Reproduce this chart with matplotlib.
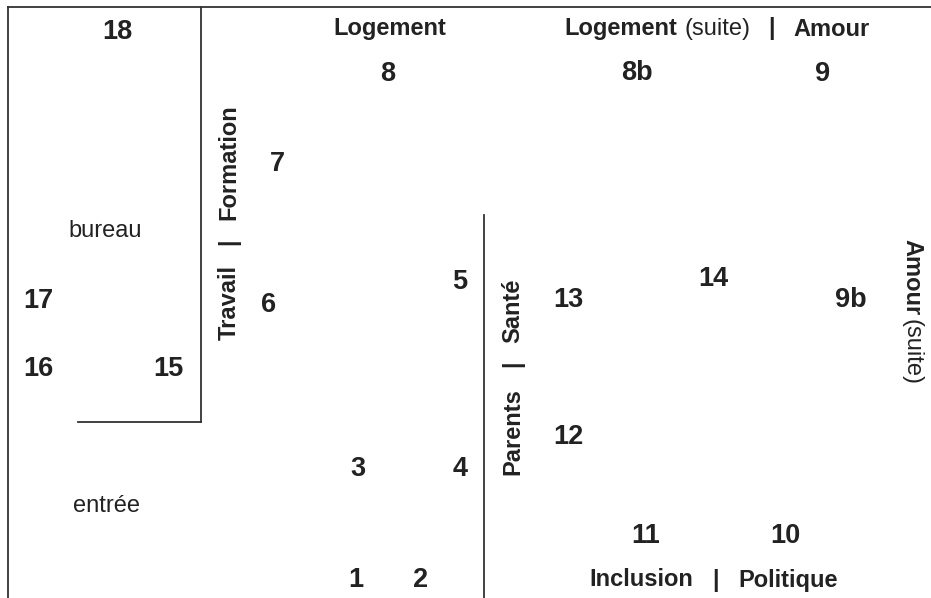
import matplotlib
matplotlib.use('Agg')
import matplotlib.pyplot as plt

plt.rcParams['font.family'] = ['Liberation Sans', 'DejaVu Sans']

# numeros des stations (x, y en pixels du plan, y vers le bas)
numeros = ['18', '8', '7', '17', '6', '5', '16', '15', '3', '4', '1', '2',
           '8b', '9', '13', '14', '9b', '12', '11', '10']
num_x = [117, 388, 277, 38, 269, 460, 38, 168, 358, 460, 356, 421,
         637, 823, 568, 713, 851, 568, 646, 785]
num_y = [32, 74, 164, 301, 305, 282, 369, 369, 469, 469, 580, 580,
         73, 74, 300, 279, 300, 437, 536, 536]

# textes horizontaux
textes = ['Logement', 'Logement', '(suite)', '|', 'Amour', 'bureau', 'entrée',
          'Inclusion', '|', 'Politique']
texte_x = [390, 621, 718, 772, 832, 105, 107, 641, 716, 788]
texte_y = [29, 29, 29, 29, 29, 231, 506, 580, 580, 580]
texte_gras = [True, True, False, True, True, False, False, True, True, True]

# textes verticaux
vert = ['Travail', '|', 'Formation', 'Parents', '|', 'Santé', 'Amour', '(suite)']
vert_x = [229, 229, 229, 513, 513, 513, 912, 911]
vert_y = [303, 242, 162, 432, 364, 311, 277, 352]
vert_rot = [90, 90, 90, 90, 90, 90, -90, -90]
vert_gras = [True, True, True, True, True, True, True, False]

# murs du plan
murs_x = [[8, 931], [8, 8], [201, 201], [78, 201], [484, 484]]
murs_y = [[7, 7], [7, 598], [7, 422], [422, 422], [215, 598]]

fig = plt.figure(figsize=(9.31, 5.98), dpi=100)
ax = fig.add_axes([0, 0, 1, 1])
ax.set_xlim(0, 931)
ax.set_ylim(598, 0)
ax.axis('off')

for xs, ys in zip(murs_x, murs_y):
    ax.plot(xs, ys, color='#333333', lw=1.3, solid_capstyle='projecting')

for t, x, y in zip(numeros, num_x, num_y):
    ax.text(x, y, t, ha='center', va='center', fontsize=19.5,
            fontweight='bold', color='#222222')

for t, x, y, g in zip(textes, texte_x, texte_y, texte_gras):
    ax.text(x, y, t, ha='center', va='center', fontsize=17,
            fontweight='bold' if g else 'normal', color='#222222')

for t, x, y, r, g in zip(vert, vert_x, vert_y, vert_rot, vert_gras):
    ax.text(x, y, t, ha='center', va='center', fontsize=17, rotation=r,
            fontweight='bold' if g else 'normal', color='#222222')

fig.savefig('out.png', dpi=100)
